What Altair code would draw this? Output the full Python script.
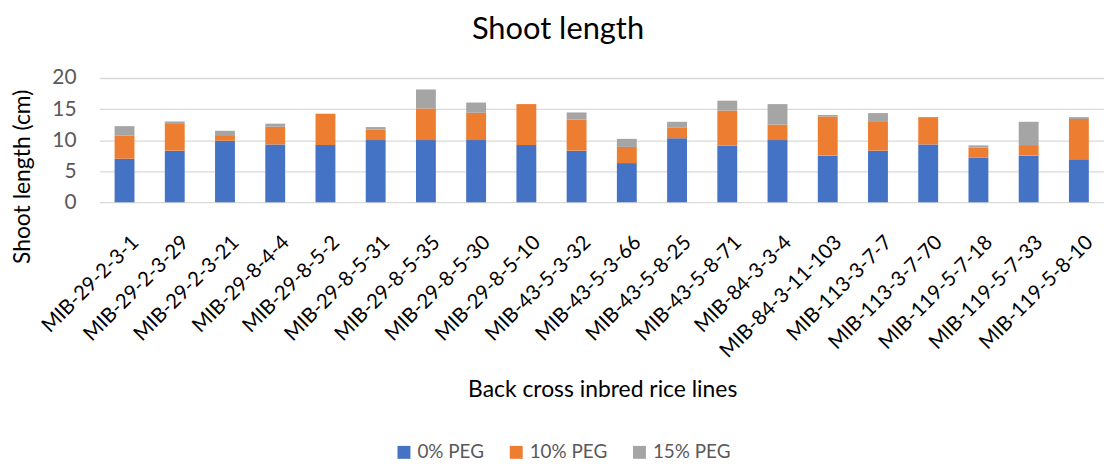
import altair as alt
import pandas as pd

lines = ["MIB-29-2-3-1", "MIB-29-2-3-29", "MIB-29-2-3-21", "MIB-29-8-4-4", "MIB-29-8-5-2",
         "MIB-29-8-5-31", "MIB-29-8-5-35", "MIB-29-8-5-30", "MIB-29-8-5-10", "MIB-43-5-3-32",
         "MIB-43-5-3-66", "MIB-43-5-8-25", "MIB-43-5-8-71", "MIB-84-3-3-4", "MIB-84-3-11-103",
         "MIB-113-3-7-7", "MIB-113-3-7-70", "MIB-119-5-7-18", "MIB-119-5-7-33", "MIB-119-5-8-10"]
peg0 = [7.0, 8.3, 9.9, 9.3, 9.2, 10.0, 10.0, 10.0, 9.2, 8.3,
        6.3, 10.3, 9.1, 10.0, 7.5, 8.3, 9.3, 7.2, 7.5, 6.9]
peg10 = [3.75, 4.3, 0.9, 2.85, 5.05, 1.7, 5.1, 4.4, 6.6, 5.0,
         2.6, 1.75, 5.65, 2.5, 6.3, 4.75, 4.4, 1.6, 1.7, 6.5]
peg15 = [1.5, 0.4, 0.7, 0.5, 0.0, 0.4, 3.05, 1.65, 0.0, 1.15,
         1.3, 0.9, 1.6, 3.3, 0.25, 1.3, 0.0, 0.35, 3.75, 0.3]
series = ["0% PEG", "10% PEG", "15% PEG"]
colors = ["#4472C4", "#ED7D31", "#A5A5A5"]

rows = []
for i, name in enumerate(lines):
    for k, vals in enumerate([peg0, peg10, peg15]):
        rows.append({"line": name, "series": series[k], "order": k, "value": vals[i]})
df = pd.DataFrame(rows)

FONT = "Lato"

chart = alt.Chart(df).mark_bar(size=20).encode(
    x=alt.X("line:N", sort=lines, title="Back cross inbred rice lines",
            scale=alt.Scale(paddingInner=0.6, paddingOuter=0.3),
            axis=alt.Axis(labelAngle=-45, labelFontSize=20.5, labelColor="#000000",
                          labelFont=FONT, labelPadding=30, labelOffset=4,
                          ticks=False, domain=False, labelAlign="right",
                          titleFont=FONT, titleFontSize=23, titleFontWeight="normal",
                          titleColor="#000000", titleX=506, titleY=189, titleBaseline="middle")),
    y=alt.Y("value:Q", stack="zero", title="Shoot length (cm)",
            scale=alt.Scale(domain=[0, 20], nice=False),
            axis=alt.Axis(values=[0, 5, 10, 15, 20], labelFontSize=21, labelColor="#595959",
                          labelFont=FONT, labelPadding=23.5, ticks=False, domain=False,
                          gridColor="#D9D9D9", gridWidth=1.3,
                          titleFont=FONT, titleFontSize=23, titleFontWeight="normal",
                          titleColor="#000000", titleX=-77, titleY=99, titleAngle=-90,
                          titleAlign="center", titleBaseline="middle")),
    color=alt.Color("series:N", sort=series,
                    scale=alt.Scale(domain=series, range=colors),
                    legend=alt.Legend(title=None, orient="none", direction="horizontal",
                                      legendX=297, legendY=367, symbolType="square",
                                      symbolSize=169, symbolStrokeWidth=0, symbolOpacity=1,
                                      labelFont=FONT, labelFontSize=19, labelColor="#595959",
                                      labelLimit=300, columnPadding=22, labelOffset=4)),
    order=alt.Order("order:Q"),
).properties(
    width=1011, height=125,
    autosize=alt.AutoSizeParams(type="none"),
    padding={"left": 92, "top": 69, "right": 0, "bottom": 260},
    title=alt.TitleParams("Shoot length", font=FONT, fontSize=31, fontWeight="normal",
                          color="#000000", anchor="middle", dx=-44, offset=21),
).configure_view(stroke=None)

chart.save("out.html", embed_options={"renderer": "svg", "actions": False})
